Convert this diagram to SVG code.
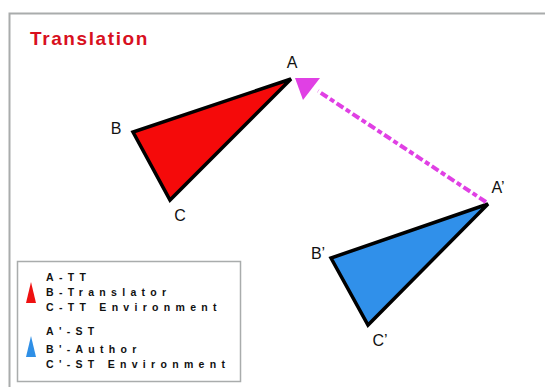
<svg xmlns="http://www.w3.org/2000/svg" width="545" height="387" viewBox="0 0 545 387">
<style>
.lbl{font-family:"Liberation Sans",Arial,sans-serif;font-size:16px;fill:#111}
.leg{font-family:"Liberation Sans",Arial,sans-serif;font-size:10.5px;font-weight:bold;fill:#111;letter-spacing:5.3px}
.tri{stroke:#000;stroke-width:3.5;stroke-linejoin:miter}
</style>
<rect x="0" y="0" width="545" height="387" fill="#fff"/>
<path d="M9.5 387V13.5H545" fill="none" stroke="#a9acac" stroke-width="2"/>
<text x="30" y="45" font-family="'Liberation Sans',Arial,sans-serif" font-size="19" font-weight="bold" fill="#d8101e" letter-spacing="1.6">Translation</text>
<g id="triangle-TT">
<polygon class="tri" points="291,79 133,132 170,200" fill="#f50a0a"/>
<text class="lbl" x="292" y="68" text-anchor="middle">A</text>
<text class="lbl" x="116" y="134" text-anchor="middle">B</text>
<text class="lbl" x="180" y="221" text-anchor="middle">C</text>
</g>
<g id="triangle-ST">
<polygon class="tri" points="488,204 331,258 368,325" fill="#3090ea"/>
<text class="lbl" x="498" y="193" text-anchor="middle">A’</text>
<text class="lbl" x="318" y="259" text-anchor="middle">B’</text>
<text class="lbl" x="380" y="346" text-anchor="middle">C’</text>
</g>
<g id="connectors">
<line x1="486" y1="202" x2="318" y2="91" stroke="#e040e4" stroke-width="4" stroke-dasharray="8 3 5 3"/>
<polygon points="295,78 320,78 303,100" fill="#e040e4"/>
</g>
<g id="legend">
<rect x="17.5" y="261.5" width="223" height="120" fill="#fff" stroke="#a9acac" stroke-width="1.5"/>
<polygon points="31,282 36,303 26,303" fill="#ee1111"/>
<polygon points="31,336 36,357 26,357" fill="#2f8fe6"/>
<text class="leg" x="46" y="281">A-TT</text>
<text class="leg" x="46" y="296">B-Translator</text>
<text class="leg" x="46" y="311">C-TT Environment</text>
<text class="leg" x="46" y="335">A'-ST</text>
<text class="leg" x="46" y="353">B'-Author</text>
<text class="leg" x="46" y="368">C'-ST Environment</text>
</g>
</svg>
